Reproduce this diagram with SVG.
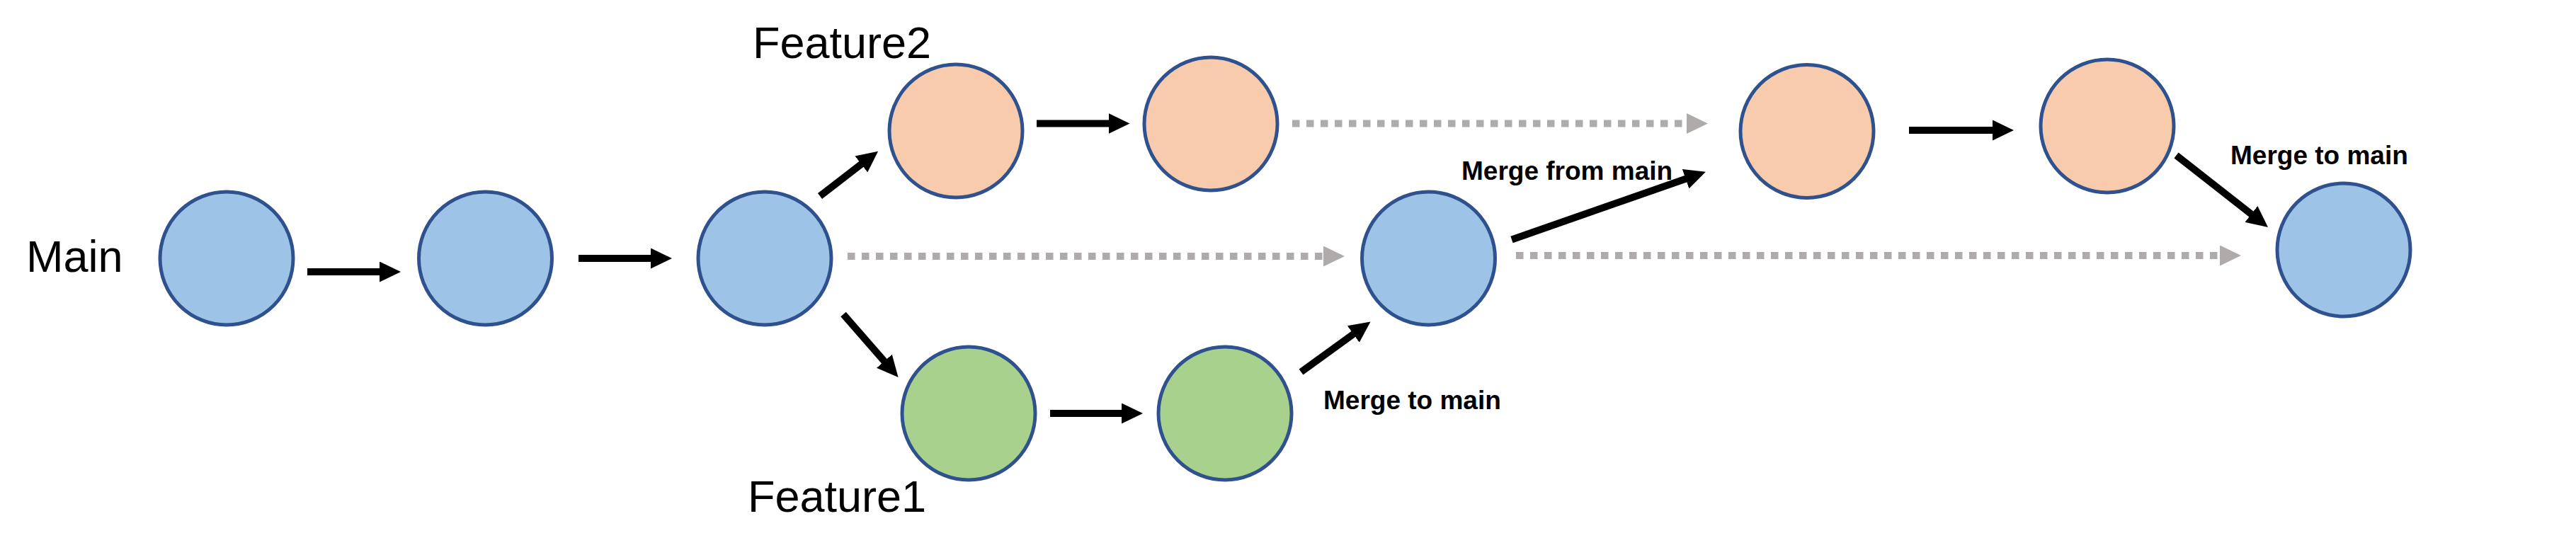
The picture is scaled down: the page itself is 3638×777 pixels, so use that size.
<svg xmlns="http://www.w3.org/2000/svg" width="3638" height="777" viewBox="0 0 3638 777">
<style>
.n{stroke:#2F528F;stroke-width:5}
.b{fill:#9DC3E6}
.o{fill:#F8CBAD}
.g{fill:#A9D18E}
.a{stroke:#000;stroke-width:10;fill:none;marker-end:url(#ah)}
.d{stroke:#AFABAB;stroke-width:10;stroke-dasharray:10.5 9.5;fill:none;marker-end:url(#dh)}
.lbl{font-family:"Liberation Sans",Arial,sans-serif;fill:#000}
.big{font-size:63px}
.bold{font-size:37px;font-weight:bold}
</style>
<defs>
<marker id="ah" viewBox="0 0 30 29" refX="15" refY="14.5" markerWidth="30" markerHeight="29" markerUnits="userSpaceOnUse" orient="auto">
<path d="M0,0 L30,14.5 L0,29 Z" fill="#000"/>
</marker>
<marker id="dh" viewBox="0 0 30 29" refX="0" refY="14.5" markerWidth="30" markerHeight="29" markerUnits="userSpaceOnUse" orient="auto">
<path d="M0,0 L30,14.5 L0,29 Z" fill="#AFABAB"/>
</marker>
</defs>
<rect width="3638" height="777" fill="#fff"/>
<g id="connectors">
<line class="a" x1="434" y1="384" x2="551" y2="384"/>
<line class="a" x1="817" y1="365" x2="934" y2="365"/>
<line class="a" x1="1158" y1="277" x2="1228.2" y2="222.8"/>
<line class="a" x1="1191" y1="444" x2="1258.7" y2="521.6"/>
<line class="a" x1="1464" y1="174.5" x2="1580.5" y2="174.5"/>
<line class="d" x1="1825" y1="174.5" x2="2382" y2="174.5"/>
<line class="d" x1="1197" y1="362" x2="1869" y2="362"/>
<line class="a" x1="1483" y1="584" x2="1599" y2="584"/>
<line class="a" x1="1837.5" y1="525.5" x2="1923.4" y2="463.2"/>
<line class="a" x1="2135" y1="338.5" x2="2394.7" y2="247.8"/>
<line class="d" x1="2141" y1="361" x2="3135" y2="361"/>
<line class="a" x1="2696" y1="184" x2="2829" y2="184"/>
<line class="a" x1="3073.5" y1="219.5" x2="3191.2" y2="311.7"/>
</g>
<g id="main1"><circle class="n b" cx="320" cy="365" r="94"/></g>
<g id="main2"><circle class="n b" cx="685.5" cy="365" r="94"/></g>
<g id="main3"><circle class="n b" cx="1080" cy="365" r="94"/></g>
<g id="feature2a"><circle class="n o" cx="1350" cy="185" r="94"/></g>
<g id="feature2b"><circle class="n o" cx="1710" cy="175" r="94"/></g>
<g id="feature1a"><circle class="n g" cx="1368" cy="584" r="94"/></g>
<g id="feature1b"><circle class="n g" cx="1730" cy="584" r="94"/></g>
<g id="main4"><circle class="n b" cx="2017.5" cy="365" r="94"/></g>
<g id="feature2c"><circle class="n o" cx="2552" cy="185.5" r="94"/></g>
<g id="feature2d"><circle class="n o" cx="2976" cy="178" r="94"/></g>
<g id="main5"><circle class="n b" cx="3310" cy="353" r="94"/></g>
<g id="labels">
<text class="lbl big" x="37" y="384">Main</text>
<text class="lbl big" x="1063" y="82">Feature2</text>
<text class="lbl big" x="1056" y="723">Feature1</text>
<text class="lbl bold" x="2064" y="254">Merge from main</text>
<text class="lbl bold" x="1869" y="578">Merge to main</text>
<text class="lbl bold" x="3150" y="232">Merge to main</text>
</g>
</svg>
